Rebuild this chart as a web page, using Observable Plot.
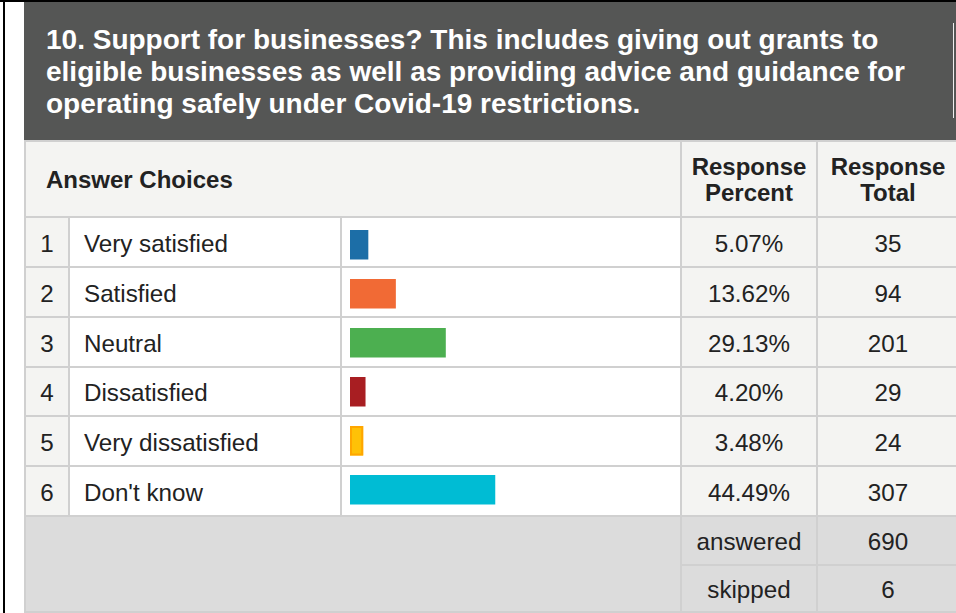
<!DOCTYPE html>
<html>
<head>
<meta charset="utf-8">
<script src="https://cdn.jsdelivr.net/npm/d3@7"></script>
<script src="https://cdn.jsdelivr.net/npm/@observablehq/plot@0.6"></script>
<style>
  html, body { margin: 0; padding: 0; background: #fff; }
  body { width: 956px; height: 613px; overflow: hidden; position: relative; font-family: "Liberation Sans", Arial, sans-serif; color: #222; }
  .abs { position: absolute; }
  #title { left: 24px; top: 2px; width: 932px; height: 138px; background: #555655; color: #fff; font-weight: bold; font-size: 28px; line-height: 31.8px; padding: 22px 0 0 22px; box-sizing: border-box; white-space: nowrap; }
  #grid { left: 24px; top: 140px; width: 934px; background: #d0d0d0; padding: 2px 0 2px 2px; box-sizing: border-box; display: grid; gap: 2px;
          grid-template-columns: 42px 270px 338px 134px 140px;
          grid-template-rows: 74px 48px 48px 48px 47px 48px 48px 47px 45px; }
  .c { display: flex; align-items: center; font-size: 24.2px; padding-top: 3px; box-sizing: border-box; }
  .hd { background: #f4f4f2; font-weight: bold; font-size: 24px; padding-top: 1px; }
  .num { background: #f4f4f2; justify-content: center; }
  .lab { background: #fff; padding-left: 14px; }
  .bar { background: #fff; }
  .val { background: #f4f4f2; justify-content: center; }
  .sum { background: #dcdcdc; justify-content: center; }
  #plot { left: 342px; top: 218px; }
</style>
</head>
<body>
<div class="abs" style="left:0;top:0;width:956px;height:2px;background:#000"></div>
<div class="abs" style="left:3px;top:0;width:2px;height:613px;background:#000"></div>
<div id="title" class="abs"></div>
<div class="abs" style="left:952.5px;top:23px;width:1.5px;height:95px;background:#eeeeee"></div>
<div id="grid" class="abs"></div>
<div id="plot" class="abs"></div>
<script>
const titleLines = [
  "10. Support for businesses? This includes giving out grants to",
  "eligible businesses as well as providing advice and guidance for",
  "operating safely under Covid-19 restrictions."
];
const headers = ["Answer Choices", "Response\nPercent", "Response\nTotal"];
const choices = ["Very satisfied", "Satisfied", "Neutral", "Dissatisfied", "Very dissatisfied", "Don't know"];
const percents = [5.07, 13.62, 29.13, 4.20, 3.48, 44.49];
const percentLabels = ["5.07%", "13.62%", "29.13%", "4.20%", "3.48%", "44.49%"];
const totals = [35, 94, 201, 29, 24, 307];
const barColors = ["#1c6ea7", "#f16a35", "#4caf50", "#a81e22", "#ffc107", "#00bcd4"];
const summaryLabels = ["answered", "skipped"];
const summaryValues = [690, 6];

// title
const titleEl = document.getElementById("title");
titleLines.forEach((s, i) => {
  if (i) titleEl.appendChild(document.createElement("br"));
  titleEl.appendChild(document.createTextNode(s));
});

// table grid
const grid = document.getElementById("grid");
function cell(cls, text, style) {
  const d = document.createElement("div");
  d.className = "c " + cls;
  if (text != null) d.textContent = text;
  if (style) d.setAttribute("style", style);
  grid.appendChild(d);
  return d;
}
cell("hd", headers[0], "grid-column: span 3; padding-left: 20px;");
cell("hd", headers[1], "justify-content:center;text-align:center;line-height:26px;white-space:pre;");
cell("hd", headers[2], "justify-content:center;text-align:center;line-height:26px;white-space:pre;");
choices.forEach((c, i) => {
  cell("num", String(i + 1));
  cell("lab", c);
  cell("bar", null);
  cell("val", percentLabels[i]);
  cell("val", String(totals[i]));
});
cell("sum", null, "grid-column: span 3; grid-row: span 2;");
cell("sum", summaryLabels[0]);
cell("sum", String(summaryValues[0]));
cell("sum", summaryLabels[1]);
cell("sum", String(summaryValues[1]));

// bars
const rows = choices.map((c, i) => ({choice: c, pct: percents[i]}));
const chart = Plot.plot({
  width: 338,
  height: 297,
  margin: 0,
  style: {background: "transparent", overflow: "visible"},
  x: {domain: [0, 100], range: [10, 332], axis: null},
  y: {domain: choices, range: [0, 297], padding: 0, axis: null},
  color: {domain: choices, range: barColors},
  marks: [
    Plot.barX(rows, {x: "pct", y: "choice", fill: "choice", insetTop: 10, insetBottom: 9.5, insetLeft: -2}),
    Plot.barX(rows.filter(d => d.choice === "Very dissatisfied"), {x: "pct", y: "choice", fill: "none", stroke: "#ffa600", strokeWidth: 2, insetTop: 11, insetBottom: 10.5, insetLeft: -1, insetRight: 1}),
    Plot.ruleX(rows.filter(d => d.choice === "Don't know"), {x: "pct", y: "choice", dx: -3, stroke: "#ffffff", strokeWidth: 1, insetTop: 11, insetBottom: 12})
  ]
});
document.getElementById("plot").appendChild(chart);
</script>
</body>
</html>
